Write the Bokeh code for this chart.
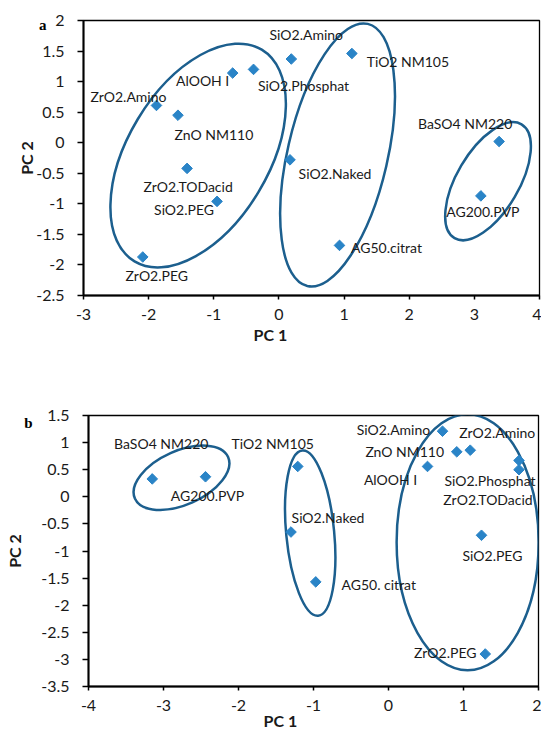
import numpy as np
from bokeh.plotting import figure
from bokeh.models import (ColumnDataSource, Range1d, FixedTicker, CustomJSTickFormatter,
                          LinearAxis, Title)
from bokeh.core.properties import value
from bokeh.embed import file_html
from bokeh.resources import INLINE

# ---------------- data: panel a ----------------
names_a = ["ZrO2.Amino", "ZnO NM110", "AlOOH I", "SiO2.Phosphat", "SiO2.Amino", "TiO2 NM105",
           "BaSO4 NM220", "SiO2.Naked", "AG200.PVP", "AG50.citrat", "ZrO2.TODacid", "SiO2.PEG", "ZrO2.PEG"]
pc1_a = [-1.88, -1.55, -0.71, -0.39, 0.19, 1.12, 3.38, 0.17, 3.10, 0.93, -1.41, -0.95, -2.09]
pc2_a = [0.61, 0.45, 1.14, 1.20, 1.37, 1.46, 0.02, -0.28, -0.87, -1.68, -0.42, -0.96, -1.87]

# ---------------- data: panel b ----------------
names_b = ["BaSO4 NM220", "AG200.PVP", "TiO2 NM105", "SiO2.Naked", "AG50. citrat", "SiO2.Amino",
           "ZnO NM110", "ZrO2.Amino", "AlOOH I", "SiO2.Phosphat", "ZrO2.TODacid", "SiO2.PEG", "ZrO2.PEG"]
pc1_b = [-3.15, -2.44, -1.21, -1.30, -0.97, 0.72, 0.91, 1.09, 0.52, 1.74, 1.74, 1.24, 1.29]
pc2_b = [0.33, 0.37, 0.56, -0.65, -1.57, 1.21, 0.83, 0.86, 0.56, 0.67, 0.50, -0.71, -2.90]

# tick labels
xticks_a = [-3, -2, -1, 0, 1, 2, 3, 4]
yticks_a = [-2.5, -2, -1.5, -1, -0.5, 0, 0.5, 1, 1.5, 2]
xticks_b = [-4, -3, -2, -1, 0, 1, 2]
yticks_b = [-3.5, -3, -2.5, -2, -1.5, -1, -0.5, 0, 0.5, 1, 1.5]

# ---------------- layout / style (label offsets in px, ellipses) ----------------
dx_a = [-28, 36, -30, 50, 15, 56, -34, 45, 2, 47, 1, -33, 14]
dy_a = [-9, 19, 7, 16, -25, 8, -18, 14, 16, 2, 18, 8, 18]
dx_b = [9, 2, -25, 37, 63, -49, -52, 27, -37, -29, -31, 11, -40]
dy_b = [-35, 19, -23, -15, 3, -2, 0, -18, 13, 20, 30, 20, -1]

ell_a = dict(x=[-1.24, 0.90, 3.21], y=[-0.21, -0.20, -0.63],
             w=[247, 269, 132], h=[141, 100, 62], ang=[59, 77, 59.5])
ell_b = dict(x=[-2.76, -1.044, 1.055], y=[0.35, -0.67, -0.84],
             w=[102, 166, 256], h=[54, 48, 142], ang=[24, 95.5, 90])

MARK = "#2a84c7"
ELL = "#1c5f8e"
FONT = "Lato"
TXT = "#1a1a1a"

fmt = CustomJSTickFormatter(code="return tick.toString()")


def make(names, xs, ys, dx, dy, ell, xr, yr, xt, yt, w, h, bl, br, bt, bb,
         letter, letter_y, letter_standoff, pc2_standoff, pc1_offset, pc1_standoff, xlab_standoff):
    p = figure(width=w, height=h, output_backend="svg", toolbar_location=None,
               x_range=Range1d(*xr), y_range=Range1d(*yr),
               min_border_left=bl, min_border_right=br, min_border_top=bt, min_border_bottom=bb)
    p.grid.visible = False
    p.outline_line_color = "black"
    p.outline_line_width = 1.3
    p.background_fill_color = "white"
    p.border_fill_color = "white"
    for ax, ticks in ((p.xaxis[0], xt), (p.yaxis[0], yt)):
        ax.ticker = FixedTicker(ticks=ticks)
        ax.formatter = fmt
        ax.axis_line_color = "black"
        ax.axis_line_width = 2
        ax.major_tick_line_color = "black"
        ax.major_tick_line_width = 1.5
        ax.major_tick_in = 0
        ax.minor_tick_line_color = None
        ax.major_label_text_font = FONT
        ax.major_label_text_font_size = "16px"
        ax.major_label_text_color = TXT
    p.xaxis.major_tick_out = 4
    p.yaxis.major_tick_out = 6
    p.xaxis.major_label_standoff = xlab_standoff
    p.yaxis.major_label_standoff = 13

    # outer left axis: carries the panel letter and the "PC 2" title
    outer = LinearAxis(ticker=FixedTicker(ticks=[letter_y]),
                       formatter=CustomJSTickFormatter(code="return '%s'" % letter),
                       axis_line_color=None, major_tick_line_color=None, minor_tick_line_color=None,
                       major_tick_out=0, major_tick_in=0, minor_tick_out=0, minor_tick_in=0,
                       major_label_standoff=letter_standoff,
                       major_label_text_font="Liberation Serif", major_label_text_font_style="bold",
                       major_label_text_font_size="15px", major_label_text_color="black",
                       axis_label="PC 2", axis_label_text_font=FONT, axis_label_text_font_style="bold",
                       axis_label_text_font_size="16px", axis_label_text_color=TXT,
                       axis_label_standoff=pc2_standoff)
    p.add_layout(outer, "left")

    t = Title(text="PC 1", align="left", offset=pc1_offset, standoff=pc1_standoff,
              text_font=FONT, text_font_style="bold", text_font_size="16px", text_color=TXT)
    p.add_layout(t, "below")

    src = ColumnDataSource(dict(x=xs, y=ys, name=names, dx=dx, dy=dy))
    p.ellipse(x=ell["x"], y=ell["y"], width=ell["w"], height=ell["h"], angle=ell["ang"],
              angle_units="deg", width_units="screen", height_units="screen",
              fill_color=None, line_color=ELL, line_width=2.5)
    p.scatter(x="x", y="y", source=src, marker="square", angle=np.pi / 4, size=7.5,
              fill_color=MARK, line_color=MARK)
    p.text(x="x", y="y", text="name", x_offset="dx", y_offset="dy", source=src,
           text_align="center", text_baseline="middle", text_font=value(FONT),
           text_font_size="14px", text_color=TXT)
    return p


pa = make(names_a, pc1_a, pc2_a, dx_a, dy_a, ell_a, (-3, 4), (-2.5, 2), xticks_a, yticks_a,
          541, 350, 83, 2, 20, 55, "a", 1.92, -13, 0, 170, 0, 9)
pb = make(names_b, pc1_b, pc2_b, dx_b, dy_b, ell_b, (-4, 2), (-3.5, 1.5), xticks_b, yticks_b,
          541, 380, 88, 3, 65, 44, "b", 1.37, 6, -3, 175, -10, 9)

# two independent roots stacked vertically, so that each frame keeps its own left border
open("out.html", "w").write(file_html([pa, pb], INLINE))
